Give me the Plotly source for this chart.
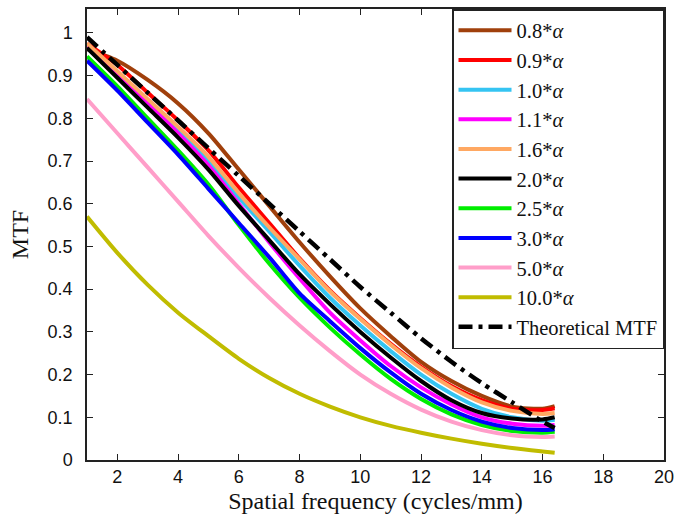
import plotly.graph_objects as go

freq = [1, 2, 3, 4, 5, 6, 7, 8, 9, 10, 11, 12, 13, 14, 15, 16, 16.4]

mtf_08 = [0.962, 0.935, 0.89, 0.835, 0.765, 0.68, 0.595, 0.51, 0.43, 0.355, 0.29, 0.23, 0.185, 0.15, 0.125, 0.12, 0.126]
mtf_09 = [0.975, 0.925, 0.86, 0.795, 0.725, 0.638, 0.555, 0.472, 0.397, 0.332, 0.272, 0.218, 0.173, 0.14, 0.12, 0.117, 0.121]
mtf_10 = [0.965, 0.90, 0.835, 0.77, 0.70, 0.615, 0.535, 0.455, 0.38, 0.315, 0.255, 0.20, 0.155, 0.12, 0.10, 0.092, 0.094]
mtf_11 = [0.97, 0.905, 0.835, 0.765, 0.69, 0.60, 0.51, 0.425, 0.345, 0.28, 0.22, 0.17, 0.13, 0.10, 0.085, 0.08, 0.082]
mtf_16 = [0.975, 0.91, 0.845, 0.78, 0.71, 0.625, 0.545, 0.47, 0.395, 0.33, 0.27, 0.215, 0.17, 0.135, 0.115, 0.108, 0.11]
mtf_20 = [0.965, 0.895, 0.825, 0.755, 0.68, 0.595, 0.515, 0.435, 0.365, 0.30, 0.24, 0.185, 0.14, 0.11, 0.097, 0.095, 0.10]
mtf_25 = [0.945, 0.875, 0.80, 0.725, 0.645, 0.55, 0.46, 0.38, 0.31, 0.247, 0.19, 0.143, 0.107, 0.082, 0.068, 0.064, 0.066]
mtf_30 = [0.935, 0.865, 0.79, 0.715, 0.635, 0.555, 0.475, 0.39, 0.325, 0.262, 0.205, 0.155, 0.117, 0.09, 0.075, 0.07, 0.072]
mtf_50 = [0.845, 0.765, 0.685, 0.605, 0.525, 0.45, 0.38, 0.315, 0.255, 0.20, 0.155, 0.118, 0.09, 0.07, 0.058, 0.054, 0.055]
mtf_100 = [0.57, 0.485, 0.41, 0.345, 0.29, 0.237, 0.192, 0.155, 0.125, 0.10, 0.08, 0.064, 0.05, 0.038, 0.028, 0.02, 0.017]
mtf_theory = [0.99, 0.925, 0.86, 0.795, 0.73, 0.665, 0.60, 0.535, 0.47, 0.405, 0.345, 0.285, 0.23, 0.18, 0.135, 0.09, 0.075]

series_names = ["0.8*<i>α</i>", "0.9*<i>α</i>", "1.0*<i>α</i>", "1.1*<i>α</i>", "1.6*<i>α</i>",
                "2.0*<i>α</i>", "2.5*<i>α</i>", "3.0*<i>α</i>", "5.0*<i>α</i>", "10.0*<i>α</i>"]
series_values = [mtf_08, mtf_09, mtf_10, mtf_11, mtf_16, mtf_20, mtf_25, mtf_30, mtf_50, mtf_100]
series_colors = ["#a0400c", "#ff0000", "#35c4f2", "#ff00ff", "#ffa862", "#000000",
                 "#00ee00", "#0000ff", "#ff9ec9", "#c0bc00"]

x_ticks = [2, 4, 6, 8, 10, 12, 14, 16, 18, 20]
y_ticks = [0, 0.1, 0.2, 0.3, 0.4, 0.5, 0.6, 0.7, 0.8, 0.9, 1]
y_tick_labels = ["0", "0.1", "0.2", "0.3", "0.4", "0.5", "0.6", "0.7", "0.8", "0.9", "1"]

fig = go.Figure()
for name, vals, col in zip(series_names, series_values, series_colors):
    fig.add_trace(go.Scatter(x=freq, y=vals, name=name, mode="lines",
                             line=dict(color=col, width=4, shape="spline", smoothing=0.8)))
fig.add_trace(go.Scatter(x=freq, y=mtf_theory, name="Theoretical MTF", mode="lines",
                         line=dict(color="#000000", width=4.5, dash="14px,6px,4px,6px",
                                   shape="spline", smoothing=0.8)))

axis_common = dict(showgrid=False, zeroline=False, showline=True, linecolor="#222",
                   linewidth=1.5, mirror="ticks", ticks="inside", ticklen=6,
                   tickcolor="#222", tickwidth=1.2, automargin=False,
                   tickfont=dict(family="Liberation Sans, Arial", size=18, color="#111"))

fig.update_xaxes(range=[1, 20], tickvals=x_ticks,
                 title=dict(text="Spatial frequency (cycles/mm)", standoff=6,
                            font=dict(family="Liberation Serif, Times New Roman", size=24, color="#111")),
                 **axis_common)
fig.update_yaxes(range=[0, 1.056], tickvals=y_ticks, ticktext=y_tick_labels,
                 ticklabelstandoff=9,
                 title=dict(text="MTF", standoff=12,
                            font=dict(family="Liberation Serif, Times New Roman", size=24, color="#111")),
                 **axis_common)

fig.update_layout(
    width=675, height=525,
    margin=dict(l=87, r=11, t=9, b=65),
    paper_bgcolor="white", plot_bgcolor="white",
    showlegend=True,
    legend=dict(x=1, y=1, xanchor="right", yanchor="top",
                bgcolor="white", bordercolor="#222", borderwidth=1.5,
                font=dict(family="Liberation Serif, Times New Roman", size=20.5, color="#111"),
                itemwidth=53, tracegroupgap=0),
)

fig.write_html("out.html", config={"displayModeBar": False},
               post_script="document.body.style.margin='0';document.body.style.overflow='hidden';")
